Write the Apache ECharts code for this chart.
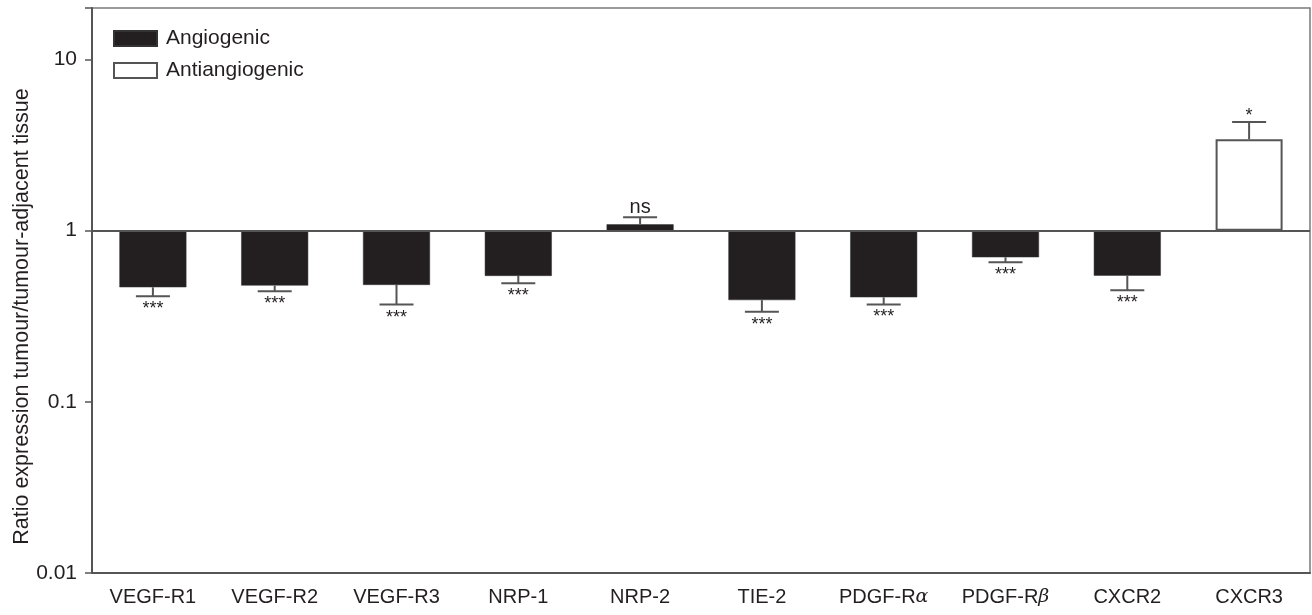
<!DOCTYPE html>
<html>
<head>
<meta charset="utf-8">
<script src="https://cdn.jsdelivr.net/npm/echarts@6/dist/echarts.min.js"></script>
<style>
html,body{margin:0;padding:0;background:#fff;}
#chart{width:1312px;height:615px;}
</style>
</head>
<body>
<div id="chart"></div>
<script>
const categories = ['VEGF-R1','VEGF-R2','VEGF-R3','NRP-1','NRP-2','TIE-2','PDGF-R\u03b1','PDGF-R\u03b2','CXCR2','CXCR3'];
const angiogenic = [0.467, 0.478, 0.482, 0.544, 1.089, 0.393, 0.408, 0.699, 0.546, null];
const antiangiogenic = [null, null, null, null, null, null, null, null, null, 3.42];
const errorEnds = [0.414, 0.443, 0.37, 0.493, 1.2, 0.336, 0.371, 0.653, 0.449, 4.31];
const significance = ['***','***','***','***','ns','***','***','***','***','*'];
const yTickLabels = {'-2':'0.01','-1':'0.1','0':'1','1':'10'};

const FONT = 'Liberation Sans, Arial, Helvetica, sans-serif';
const INK = '#231f20';
const LINE = '#555555';

const barValues = angiogenic.map((v,i)=> v != null ? v : antiangiogenic[i]);
const errData = categories.map((c,i)=>[i, barValues[i], errorEnds[i]]);

const chart = echarts.init(document.getElementById('chart'), null, {renderer:'canvas'});
chart.setOption({
  animation:false,
  backgroundColor:'#fff',
  textStyle:{fontFamily:FONT},
  grid:{left:92,right:2,top:8,bottom:42,outerBoundsMode:'none',containLabel:false,show:true,borderColor:'#7a7a7a',borderWidth:1.5,backgroundColor:'transparent'},
  legend:{
    orient:'vertical',left:113,top:28,padding:0,
    itemWidth:43,itemHeight:15,itemGap:11,
    textStyle:{fontFamily:FONT,fontSize:21,color:INK,padding:[0,0,0,4]},
    data:[{name:'Angiogenic',icon:'rect'},{name:'Antiangiogenic',icon:'rect'}]
  },
  xAxis:{
    type:'category',data:categories,
    axisLine:{lineStyle:{color:LINE,width:2}},
    axisTick:{alignWithLabel:true,length:7,lineStyle:{color:LINE,width:1.5}},
    axisLabel:{
      interval:0,margin:14,fontFamily:FONT,fontSize:20,color:INK,
      formatter:function(v){
        const m = v.match(/^(.*R)([\u03b1\u03b2])$/);
        if(m) return '{n|'+m[1]+'}{g|'+m[2]+'}';
        return '{n|'+v+'}';
      },
      rich:{
        n:{fontFamily:FONT,fontSize:20,color:INK},
        g:{fontFamily:'DejaVu Serif, Liberation Serif, serif',fontStyle:'italic',fontSize:19,color:INK}
      }
    }
  },
  yAxis:{
    type:'log',logBase:10,min:0.01,max:20,
    name:'Ratio expression tumour/tumour-adjacent tissue',
    nameLocation:'middle',nameGap:59,nameMoveOverlap:false,
    nameTextStyle:{fontFamily:FONT,fontSize:21.5,color:INK,padding:[0,52,0,0]},
    axisLine:{show:true,lineStyle:{color:LINE,width:2}},
    axisTick:{show:true,length:7,lineStyle:{color:LINE,width:1.5}},
    splitLine:{show:false},
    minorTick:{show:false},
    axisLabel:{
      margin:15,fontFamily:FONT,fontSize:21,color:INK,
      formatter:function(v){
        const e = Math.log10(v);
        const r = Math.round(e);
        if(Math.abs(e-r)>1e-6) return '';
        return yTickLabels[String(r)] || '';
      }
    }
  },
  series:[
    {
      name:'Angiogenic',type:'bar',data:angiogenic,barWidth:67,barGap:'-100%',
      itemStyle:{color:INK,borderColor:'#333',borderWidth:0.5},
      z:2,
      markLine:{
        silent:true,symbol:['none','none'],
        label:{show:false},
        lineStyle:{color:LINE,width:2,type:'solid'},
        data:[{yAxis:1}],
        z:3
      }
    },
    {
      name:'Antiangiogenic',type:'bar',data:antiangiogenic,barWidth:67,barGap:'-100%',
      itemStyle:{color:'#ffffff',borderColor:LINE,borderWidth:2},
      z:2
    },
    {
      name:'err',type:'custom',data:errData,z:4,
      encode:{x:0,y:1},
      renderItem:function(params,api){
        const i = api.value(0);
        const v = api.value(1);
        const e = api.value(2);
        const sig = significance[params.dataIndex];
        const p0 = api.coord([i,v]);
        const p1 = api.coord([i,e]);
        const half = 17;
        const down = p1[1] > p0[1];
        const style = {stroke:LINE,lineWidth:2};
        const isStar = sig.indexOf('*')>=0;
        return {
          type:'group',
          children:[
            {type:'line',shape:{x1:p0[0],y1:p0[1],x2:p1[0],y2:p1[1]},style:style},
            {type:'line',shape:{x1:p1[0]-half,y1:p1[1],x2:p1[0]+half,y2:p1[1]},style:style},
            {type:'text',x:p1[0],y:down? p1[1]+4 : p1[1]+(isStar?3:0),
              style:{text:sig,fill:INK,font:(isStar?'18px ':'20px ')+FONT,align:'center',verticalAlign:down?'top':'bottom'}}
          ]
        };
      }
    }
  ]
});
</script>
</body>
</html>
